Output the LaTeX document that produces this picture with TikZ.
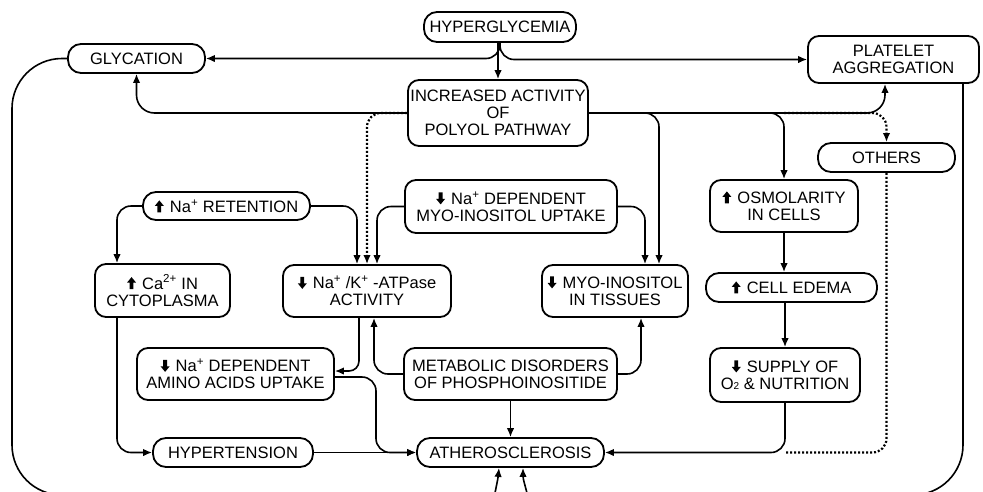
\documentclass[tikz,border=0pt]{standalone}
\usepackage{fontspec}
\setmainfont{Liberation Sans}
\usetikzlibrary{arrows.meta}
\newcommand{\upar}{\tikz[x=1pt,y=1pt,baseline=0pt,sharp corners]\fill[black] (2.6,0) -- (6.4,0) -- (6.4,6.5) -- (9,6.5) -- (4.5,12) -- (0,6.5) -- (2.6,6.5) -- cycle;\hspace{1.5pt}}
\newcommand{\dnar}{\tikz[x=1pt,y=1pt,baseline=0pt,sharp corners]\fill[black] (2.6,12) -- (6.4,12) -- (6.4,5.5) -- (9,5.5) -- (4.5,0) -- (0,5.5) -- (2.6,5.5) -- cycle;\hspace{1.5pt}}
\begin{document}
\begin{tikzpicture}[x=1pt,y=-1pt,
  font=\fontsize{16.5}{17}\selectfont,
  box/.style={draw, line width=1.8pt, rounded corners=11pt, align=center, inner sep=0pt},
  pill/.style={draw, line width=1.8pt, rounded corners=13pt, align=center, inner sep=0pt},
  line/.style={line width=1.6pt},
  arr/.style={line width=1.6pt, -{Latex[length=9pt,width=7.5pt]}},
  darr/.style={line width=2.2pt, dash pattern=on 2pt off 2pt, -{Latex[length=9pt,width=7.5pt]}},
  dline/.style={line width=2.2pt, dash pattern=on 2pt off 2pt}]
\useasboundingbox (0,0) rectangle (983,491);

\node[pill, minimum width=152pt, minimum height=30pt] (hyper) at (500,27) {HYPERGLYCEMIA};
\node[pill, minimum width=137pt, minimum height=29pt] (glyc) at (136.5,58.5) {GLYCATION};
\node[box, minimum width=171pt, minimum height=47pt] (plat) at (893.5,59.5) {PLATELET\\AGGREGATION};
\node[box, minimum width=180pt, minimum height=66pt] (polyol) at (498,113) {INCREASED ACTIVITY\\OF\\POLYOL PATHWAY};
\node[pill, minimum width=137pt, minimum height=29pt] (others) at (886.5,157.5) {OTHERS};
\node[pill, minimum width=167pt, minimum height=28pt] (ret) at (226.5,206) {\upar\ Na\textsuperscript{+} RETENTION};
\node[box, minimum width=212pt, minimum height=53pt] (myoup) at (511,206.5) {\dnar\ Na\textsuperscript{+} DEPENDENT\\MYO-INOSITOL UPTAKE};
\node[box, minimum width=148pt, minimum height=52pt] (osm) at (784,206) {\upar\ OSMOLARITY\\IN CELLS};
\node[box, minimum width=135pt, minimum height=53pt] (ca) at (162.5,290.5) {\upar\ Ca\textsuperscript{2+} IN\\CYTOPLASMA};
\node[box, minimum width=168pt, minimum height=52pt] (atp) at (367,291) {\dnar\ Na\textsuperscript{+} /K\textsuperscript{+} -ATPase\\ACTIVITY};
\node[box, minimum width=146pt, minimum height=52pt] (myot) at (615,291) {\dnar\ MYO-INOSITOL\\IN TISSUES};
\node[pill, minimum width=171pt, minimum height=29pt] (edema) at (791.5,287.5) {\upar\ CELL EDEMA};
\node[box, minimum width=197pt, minimum height=52pt] (amino) at (235.5,374) {\dnar\ Na\textsuperscript{+} DEPENDENT\\AMINO ACIDS UPTAKE};
\node[box, minimum width=213pt, minimum height=52pt] (meta) at (510.5,374) {METABOLIC DISORDERS\\OF PHOSPHOINOSITIDE};
\node[box, minimum width=150pt, minimum height=54pt] (supply) at (785,375) {\dnar\ SUPPLY OF\\O{\fontsize{10}{10}\selectfont 2} \& NUTRITION};
\node[pill, minimum width=160pt, minimum height=29pt] (hypt) at (233,452.5) {HYPERTENSION};
\node[pill, minimum width=187pt, minimum height=29pt] (ath) at (510.5,452.5) {ATHEROSCLEROSIS};

\coordinate (aj) at (376,410);
\coordinate (lb) at (12,495);
\coordinate (lbe) at (160,495);
\coordinate (rb) at (963,495);
\coordinate (rbe) at (800,495);
\coordinate (b1) at (495,493);
\coordinate (b2) at (527,493);

% hyperglycemia
\draw[arr] (polyol.north |- hyper.south) -- (polyol.north);
\draw[arr, rounded corners=14pt] (hyper.south) |- (glyc.east);
\draw[arr, rounded corners=14pt] (hyper.south) |- (plat.west);

% polyol outputs
\draw[arr, rounded corners=18pt] (polyol.west) -| (glyc.south);
\draw[arr, rounded corners=18pt] (polyol.east) -| ([xshift=-8.5pt]plat.south);
\draw[arr, rounded corners=14pt] (polyol.east) -| ([xshift=44pt]myot.north);
\draw[arr, rounded corners=14pt] (polyol.east) -| (osm.north);
\draw[darr, rounded corners=14pt] (polyol.east -| osm.north) -| (others.north);
\draw[darr, rounded corners=14pt] (polyol.west) -| (atp.north);

% Na retention
\draw[arr, rounded corners=14pt] (ret.east) -| ([xshift=-10pt]atp.north);
\draw[arr, rounded corners=14pt] (ret.west) -| ([xshift=-45.5pt]ca.north);

% myo-inositol uptake
\draw[arr, rounded corners=14pt] (myoup.west) -| ([xshift=10pt]atp.north);
\draw[arr, rounded corners=14pt] (myoup.east) -| ([xshift=30pt]myot.north);

% osmolarity chain
\draw[arr] (osm.south) -- (osm.south |- edema.north);
\draw[arr] (edema.south -| supply.north) -- (supply.north);

% metabolic disorders
\draw[arr, rounded corners=14pt] (meta.west) -| ([xshift=7pt]atp.south);
\draw[arr, rounded corners=14pt] (meta.east) -| ([xshift=26pt]myot.south);
\draw[arr] (meta.south) -- (ath.north);

% ATPase -> amino acids
\draw[arr, rounded corners=10pt] ([xshift=-8pt]atp.south) |- ([yshift=3pt]amino.east);
\draw[arr, rounded corners=14pt] ([yshift=-3pt]amino.east) -| (aj) |- (ath.west);

% hypertension
\draw[arr, rounded corners=14pt] ([xshift=-45.5pt]ca.south) |- (hypt.west);
\draw[arr] (hypt.east) -- (ath.west);

% supply & others to atherosclerosis
\draw[arr, rounded corners=14pt] (supply.south) |- (ath.east);
\draw[dline, rounded corners=14pt] (others.south) |- (supply.south |- ath.east);

% big loops
\draw[line, rounded corners=50pt] (glyc.west) -| (lb) -- (lbe);
\draw[line, rounded corners=50pt] ([xshift=69.5pt]plat.south) -- (rb) -- (rbe);

% arrows from below
\draw[arr] (b1) .. controls (498,478) .. ([xshift=-11.5pt]ath.south);
\draw[arr] (b2) .. controls (523,478) .. ([xshift=12.5pt]ath.south);
\end{tikzpicture}
\end{document}
